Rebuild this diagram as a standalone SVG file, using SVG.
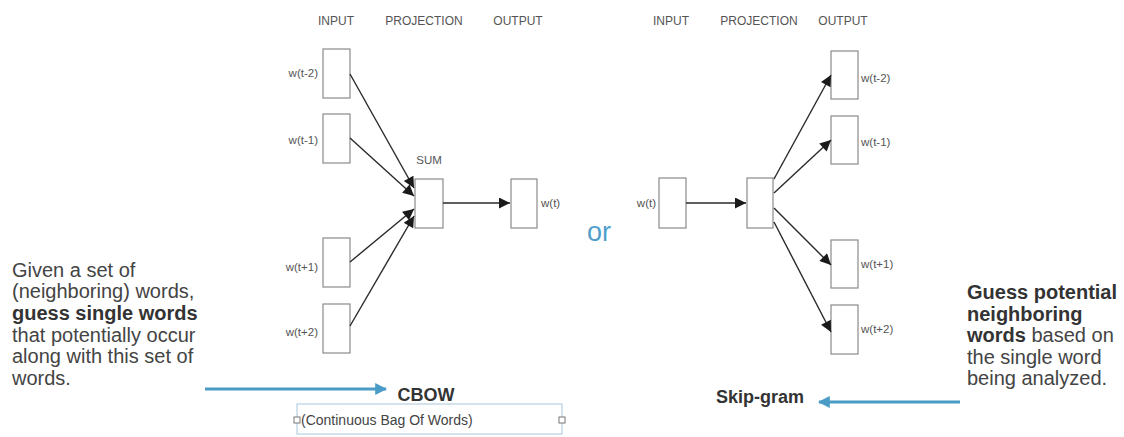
<svg xmlns="http://www.w3.org/2000/svg" width="1124" height="437" viewBox="0 0 1124 437">
<style>
.box{fill:#fff;stroke:#8a8a8a;stroke-width:1.2}
.hdr{font-family:"Liberation Sans",Arial,sans-serif;font-size:12px;fill:#555;text-anchor:middle}
.lbl{font-family:"Liberation Sans",Arial,sans-serif;font-size:11.5px;fill:#555}
.edge{stroke:#2a2a2a;stroke-width:1.4;fill:none;marker-end:url(#ah)}
.desc{font-family:"Liberation Sans",Arial,sans-serif;font-size:20px;fill:#444}
.b{font-weight:bold;fill:#333}
.blue{stroke:#4a9cc6;stroke-width:3;fill:none}
</style>
<defs>
<marker id="ah" viewBox="0 0 10 10" refX="10" refY="5" markerWidth="13" markerHeight="11" markerUnits="userSpaceOnUse" orient="auto">
<path d="M0,0 L10,5 L0,10 z" fill="#1a1a1a"/>
</marker>
<marker id="bh" viewBox="0 0 10 10" refX="9" refY="5" markerWidth="4" markerHeight="4" orient="auto">
<path d="M0,0 L10,5 L0,10 z" fill="#4a9cc6"/>
</marker>
</defs>
<rect width="1124" height="437" fill="#fff"/>

<g id="cbow-headers">
<text class="hdr" x="336" y="25">INPUT</text>
<text class="hdr" x="424" y="25">PROJECTION</text>
<text class="hdr" x="518" y="25">OUTPUT</text>
</g>
<g id="cbow-in-t-2"><rect class="box" x="323" y="49" width="27" height="49"/><text class="lbl" x="318" y="77" text-anchor="end">w(t-2)</text></g>
<g id="cbow-in-t-1"><rect class="box" x="323" y="114" width="27" height="49"/><text class="lbl" x="318" y="144" text-anchor="end">w(t-1)</text></g>
<g id="cbow-in-t+1"><rect class="box" x="323" y="238" width="27" height="49"/><text class="lbl" x="318" y="271" text-anchor="end">w(t+1)</text></g>
<g id="cbow-in-t+2"><rect class="box" x="323" y="304" width="27" height="49"/><text class="lbl" x="318" y="336" text-anchor="end">w(t+2)</text></g>
<g id="cbow-sum"><rect class="box" x="415" y="179" width="28" height="49"/><text class="lbl" x="429" y="164" text-anchor="middle">SUM</text></g>
<g id="cbow-out"><rect class="box" x="511" y="179" width="26" height="49"/><text class="lbl" x="541" y="207">w(t)</text></g>

<g id="sg-headers">
<text class="hdr" x="671" y="25">INPUT</text>
<text class="hdr" x="759" y="25">PROJECTION</text>
<text class="hdr" x="843" y="25">OUTPUT</text>
</g>
<g id="sg-in"><rect class="box" x="659" y="178" width="27" height="50"/><text class="lbl" x="656" y="207" text-anchor="end">w(t)</text></g>
<g id="sg-proj"><rect class="box" x="747" y="178" width="26" height="50"/></g>
<g id="sg-out-t-2"><rect class="box" x="831" y="51" width="27" height="48"/><text class="lbl" x="861" y="82">w(t-2)</text></g>
<g id="sg-out-t-1"><rect class="box" x="831" y="116" width="27" height="48"/><text class="lbl" x="861" y="146">w(t-1)</text></g>
<g id="sg-out-t+1"><rect class="box" x="831" y="240" width="27" height="48"/><text class="lbl" x="861" y="268">w(t+1)</text></g>
<g id="sg-out-t+2"><rect class="box" x="831" y="305" width="27" height="49"/><text class="lbl" x="861" y="333">w(t+2)</text></g>

<g id="connectors">
<line class="edge" x1="350" y1="74" x2="414" y2="188"/>
<line class="edge" x1="350" y1="138" x2="414" y2="196"/>
<line class="edge" x1="350" y1="262" x2="414" y2="209"/>
<line class="edge" x1="350" y1="326" x2="414" y2="216"/>
<line class="edge" x1="443" y1="203" x2="510" y2="203"/>
<line class="edge" x1="686" y1="203" x2="746" y2="203"/>
<line class="edge" x1="774" y1="179" x2="831" y2="75"/>
<line class="edge" x1="774" y1="193" x2="831" y2="140"/>
<line class="edge" x1="774" y1="208" x2="831" y2="265"/>
<line class="edge" x1="774" y1="222" x2="831" y2="332"/>
<line class="blue" x1="205" y1="389" x2="386" y2="389" marker-end="url(#bh)"/>
<line class="blue" x1="960" y1="402" x2="819" y2="402" marker-end="url(#bh)"/>
</g>

<g id="or"><text x="599" y="241" text-anchor="middle" font-family="Liberation Sans, Arial, sans-serif" font-size="27" fill="#509fcb">or</text></g>

<g id="cbow-desc">
<text class="desc" x="12" y="277">Given a set of</text>
<text class="desc" x="12" y="298">(neighboring) words,</text>
<text class="desc b" x="12" y="320">guess single words</text>
<text class="desc" x="12" y="342">that potentially occur</text>
<text class="desc" x="12" y="363">along with this set of</text>
<text class="desc" x="12" y="385">words.</text>
</g>

<g id="sg-desc">
<text class="desc b" x="967" y="299">Guess potential</text>
<text class="desc b" x="967" y="321">neighboring</text>
<text class="desc" x="967" y="342"><tspan class="b">words</tspan> based on</text>
<text class="desc" x="967" y="364">the single word</text>
<text class="desc" x="967" y="385">being analyzed.</text>
</g>

<g id="cbow-title">
<text x="426" y="401" text-anchor="middle" font-family="Liberation Sans, Arial, sans-serif" font-size="18" font-weight="bold" fill="#333">CBOW</text>
<rect x="297" y="404" width="265" height="30" fill="none" stroke="#a9c6de" stroke-width="1"/>
<rect x="294" y="417" width="6" height="6" fill="#fff" stroke="#777" stroke-width="1"/>
<rect x="559" y="417" width="6" height="6" fill="#fff" stroke="#777" stroke-width="1"/>
<text x="301" y="425" font-family="Liberation Sans, Arial, sans-serif" font-size="14" fill="#444">(Continuous Bag Of Words)</text>
</g>
<g id="sg-title">
<text x="716" y="403" font-family="Liberation Sans, Arial, sans-serif" font-size="18" font-weight="bold" fill="#333">Skip-gram</text>
</g>
</svg>
